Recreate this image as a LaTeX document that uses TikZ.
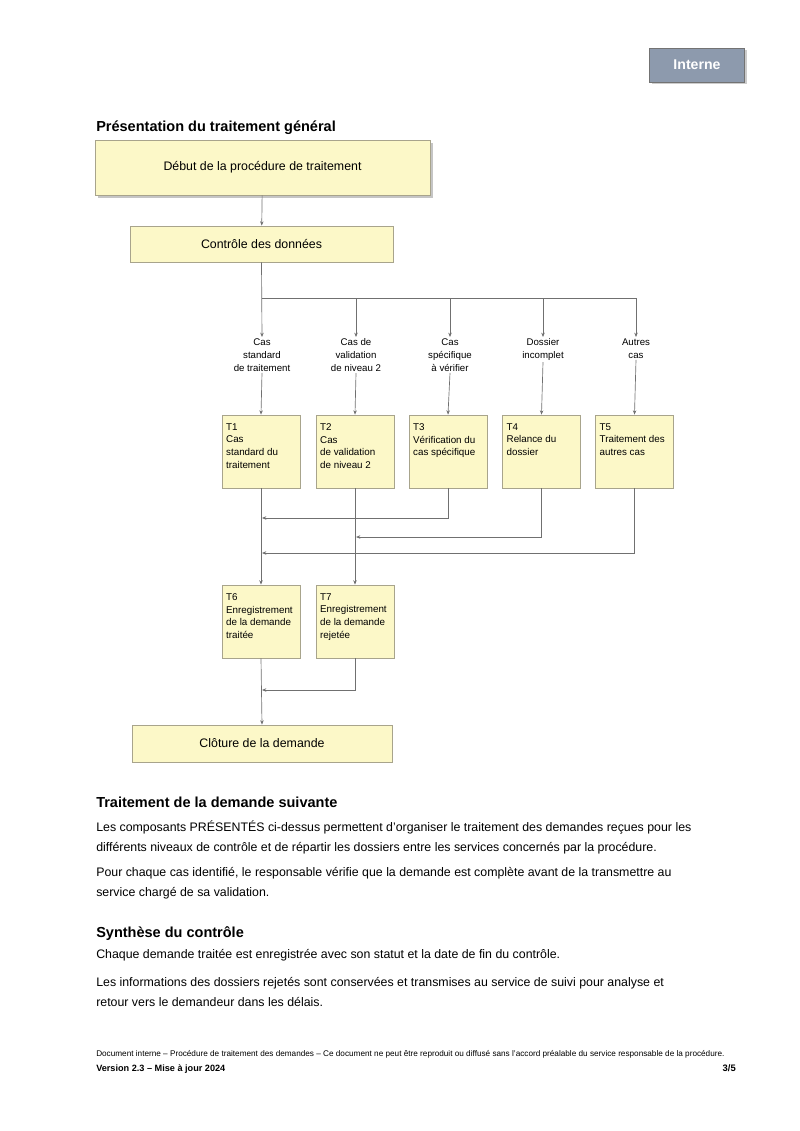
\documentclass[tikz,border=0pt]{standalone}
\usepackage{fontspec}
\setmainfont{Liberation Sans}
\usetikzlibrary{arrows.meta,shadows}
\definecolor{boxyellow}{HTML}{FCF8C8}
\definecolor{boxline}{HTML}{A8A48C}
\definecolor{badge}{HTML}{8D9AAD}
\definecolor{conncol}{HTML}{707070}
\def\pxu{0.7441pt}
\begin{document}
\begin{tikzpicture}[x=0.7441pt,y=-0.7441pt,
  box/.style={draw=boxline, fill=boxyellow, line width=0.6pt, inner sep=0pt},
  bigbox/.style={box, drop shadow={shadow xshift=2.5pt, shadow yshift=-2.5pt, fill=black!45}},
  cell/.style={box, minimum width=78*\pxu, minimum height=73*\pxu, anchor=center},
  celltxt/.style={anchor=north west, align=left, font=\fontsize{7.3}{9.4}\selectfont,
     inner sep=0pt, xshift=3.2pt, yshift=-6.5pt},
  lbl/.style={align=center, font=\fontsize{7.2}{9.6}\selectfont, inner sep=1pt},
  conn/.style={draw=conncol, line width=0.5pt},
  arr/.style={conn, -{Stealth[length=3.2pt,width=2.6pt]}},
  head/.style={anchor=base west, font=\fontsize{10.8}{13}\selectfont\bfseries, inner sep=0pt},
  para/.style={anchor=north west, align=left, font=\fontsize{9.2}{14.9}\selectfont, inner sep=0pt}]
\useasboundingbox (0,0) rectangle (800,1131);

% badge
\node[draw=black!55, fill=badge, drop shadow={shadow xshift=1.5pt, shadow yshift=-1.5pt, fill=black!40},
  minimum width=95*\pxu, minimum height=34*\pxu, text=white, font=\fontsize{10.5}{12}\selectfont\bfseries]
  (badge) at (697,65) {Interne};

% heading
\node[head] (h1) at (96,131) {Présentation du traitement général};

% main boxes
\node[bigbox, minimum width=335*\pxu, minimum height=55*\pxu, font=\fontsize{9.2}{11}\selectfont]
  (b1) at (262.5,167.5) {Début de la procédure de traitement};
\node[box, minimum width=263*\pxu, minimum height=36*\pxu, font=\fontsize{9.2}{11}\selectfont]
  (b2) at (261.5,244) {Contrôle des données};

% labels
\node[lbl, anchor=north] (l1) at (262,337) {Cas\\standard\\de traitement};
\node[lbl, anchor=north] (l2) at (356,337) {Cas de\\validation\\de niveau 2};
\node[lbl, anchor=north] (l3) at (450,337) {Cas\\spécifique\\à vérifier};
\node[lbl, anchor=north] (l4) at (543,337) {Dossier\\incomplet};
\node[lbl, anchor=north] (l5) at (636,337) {Autres\\cas};

% row boxes
\node[cell, label={[celltxt]north west:T1\\Cas\\standard du\\traitement}] (r1) at (261,451.5) {};
\node[cell, label={[celltxt]north west:T2\\Cas\\de validation\\de niveau 2}] (r2) at (355,451.5) {};
\node[cell, label={[celltxt]north west:T3\\Vérification du\\cas spécifique}] (r3) at (448,451.5) {};
\node[cell, label={[celltxt]north west:T4\\Relance du\\dossier}] (r4) at (541.5,451.5) {};
\node[cell, label={[celltxt]north west:T5\\Traitement des\\autres cas}] (r5) at (634.5,451.5) {};

% second row
\node[cell, label={[celltxt]north west:T6\\Enregistrement\\de la demande\\traitée}] (s1) at (261,621.5) {};
\node[cell, label={[celltxt]north west:T7\\Enregistrement\\de la demande\\rejetée}] (s2) at (355,621.5) {};

% final
\node[box, minimum width=260*\pxu, minimum height=37*\pxu, font=\fontsize{9.2}{11}\selectfont]
  (f) at (262,743.5) {Clôture de la demande};

% connectors
\coordinate (j1) at (262,298);
\coordinate (m3) at (262,518);
\coordinate (m4) at (356,537);
\coordinate (m5) at (262,553);
\coordinate (m7) at (262,690);

\draw[arr] (b1) -- (b2);
\draw[arr] (b2.south) -- (l1.north);
\draw[arr] (j1) -| (l2.north);
\draw[arr] (j1) -| (l3.north);
\draw[arr] (j1) -| (l4.north);
\draw[arr] (j1) -| (l5.north);

\draw[arr] (l1.south) -- (r1.north);
\draw[arr] (l2.south) -- (r2.north);
\draw[arr] (l3.south) -- (r3.north);
\draw[arr] (l4.south) -- (r4.north);
\draw[arr] (l5.south) -- (r5.north);

\draw[arr] (r1.south) -- (s1.north);
\draw[arr] (r2.south) -- (s2.north);
\draw[arr] (r3.south) |- (m3);
\draw[arr] (r4.south) |- (m4);
\draw[arr] (r5.south) |- (m5);

\draw[arr] (s1.south) -- (f.north);
\draw[arr] (s2.south) |- (m7);

% text sections
\node[head] (h2) at (96,807) {Traitement de la demande suivante};
\node[para] (p1) at (96,820) {Les composants PRÉSENTÉS ci-dessus permettent d'organiser le traitement des demandes reçues pour les\\
différents niveaux de contrôle et de répartir les dossiers entre les services concernés par la procédure.};
\node[para] (p2) at (96,867) {Pour chaque cas identifié, le responsable vérifie que la demande est complète avant de la transmettre au\\
service chargé de sa validation.};

\node[head] (h3) at (96,937) {Synthèse du contrôle};
\node[para] (p3) at (96,949) {Chaque demande traitée est enregistrée avec son statut et la date de fin du contrôle.};
\node[para] (p4) at (96,977) {Les informations des dossiers rejetés sont conservées et transmises au service de suivi pour analyse et\\
retour vers le demandeur dans les délais.};

% footer
\node[anchor=base west, font=\fontsize{6.1}{7}\selectfont, inner sep=0pt] (ft1) at (96,1056)
  {Document interne -- Procédure de traitement des demandes -- Ce document ne peut être reproduit ou diffusé sans l'accord préalable du service responsable de la procédure.};
\node[anchor=base west, font=\fontsize{6.8}{7}\selectfont\bfseries, inner sep=0pt] (ft2) at (96,1071)
  {Version 2.3 -- Mise à jour 2024};
\node[anchor=base east, font=\fontsize{7}{7}\selectfont\bfseries, inner sep=0pt] (pg) at (736,1071) {3/5};
\end{tikzpicture}
\end{document}
